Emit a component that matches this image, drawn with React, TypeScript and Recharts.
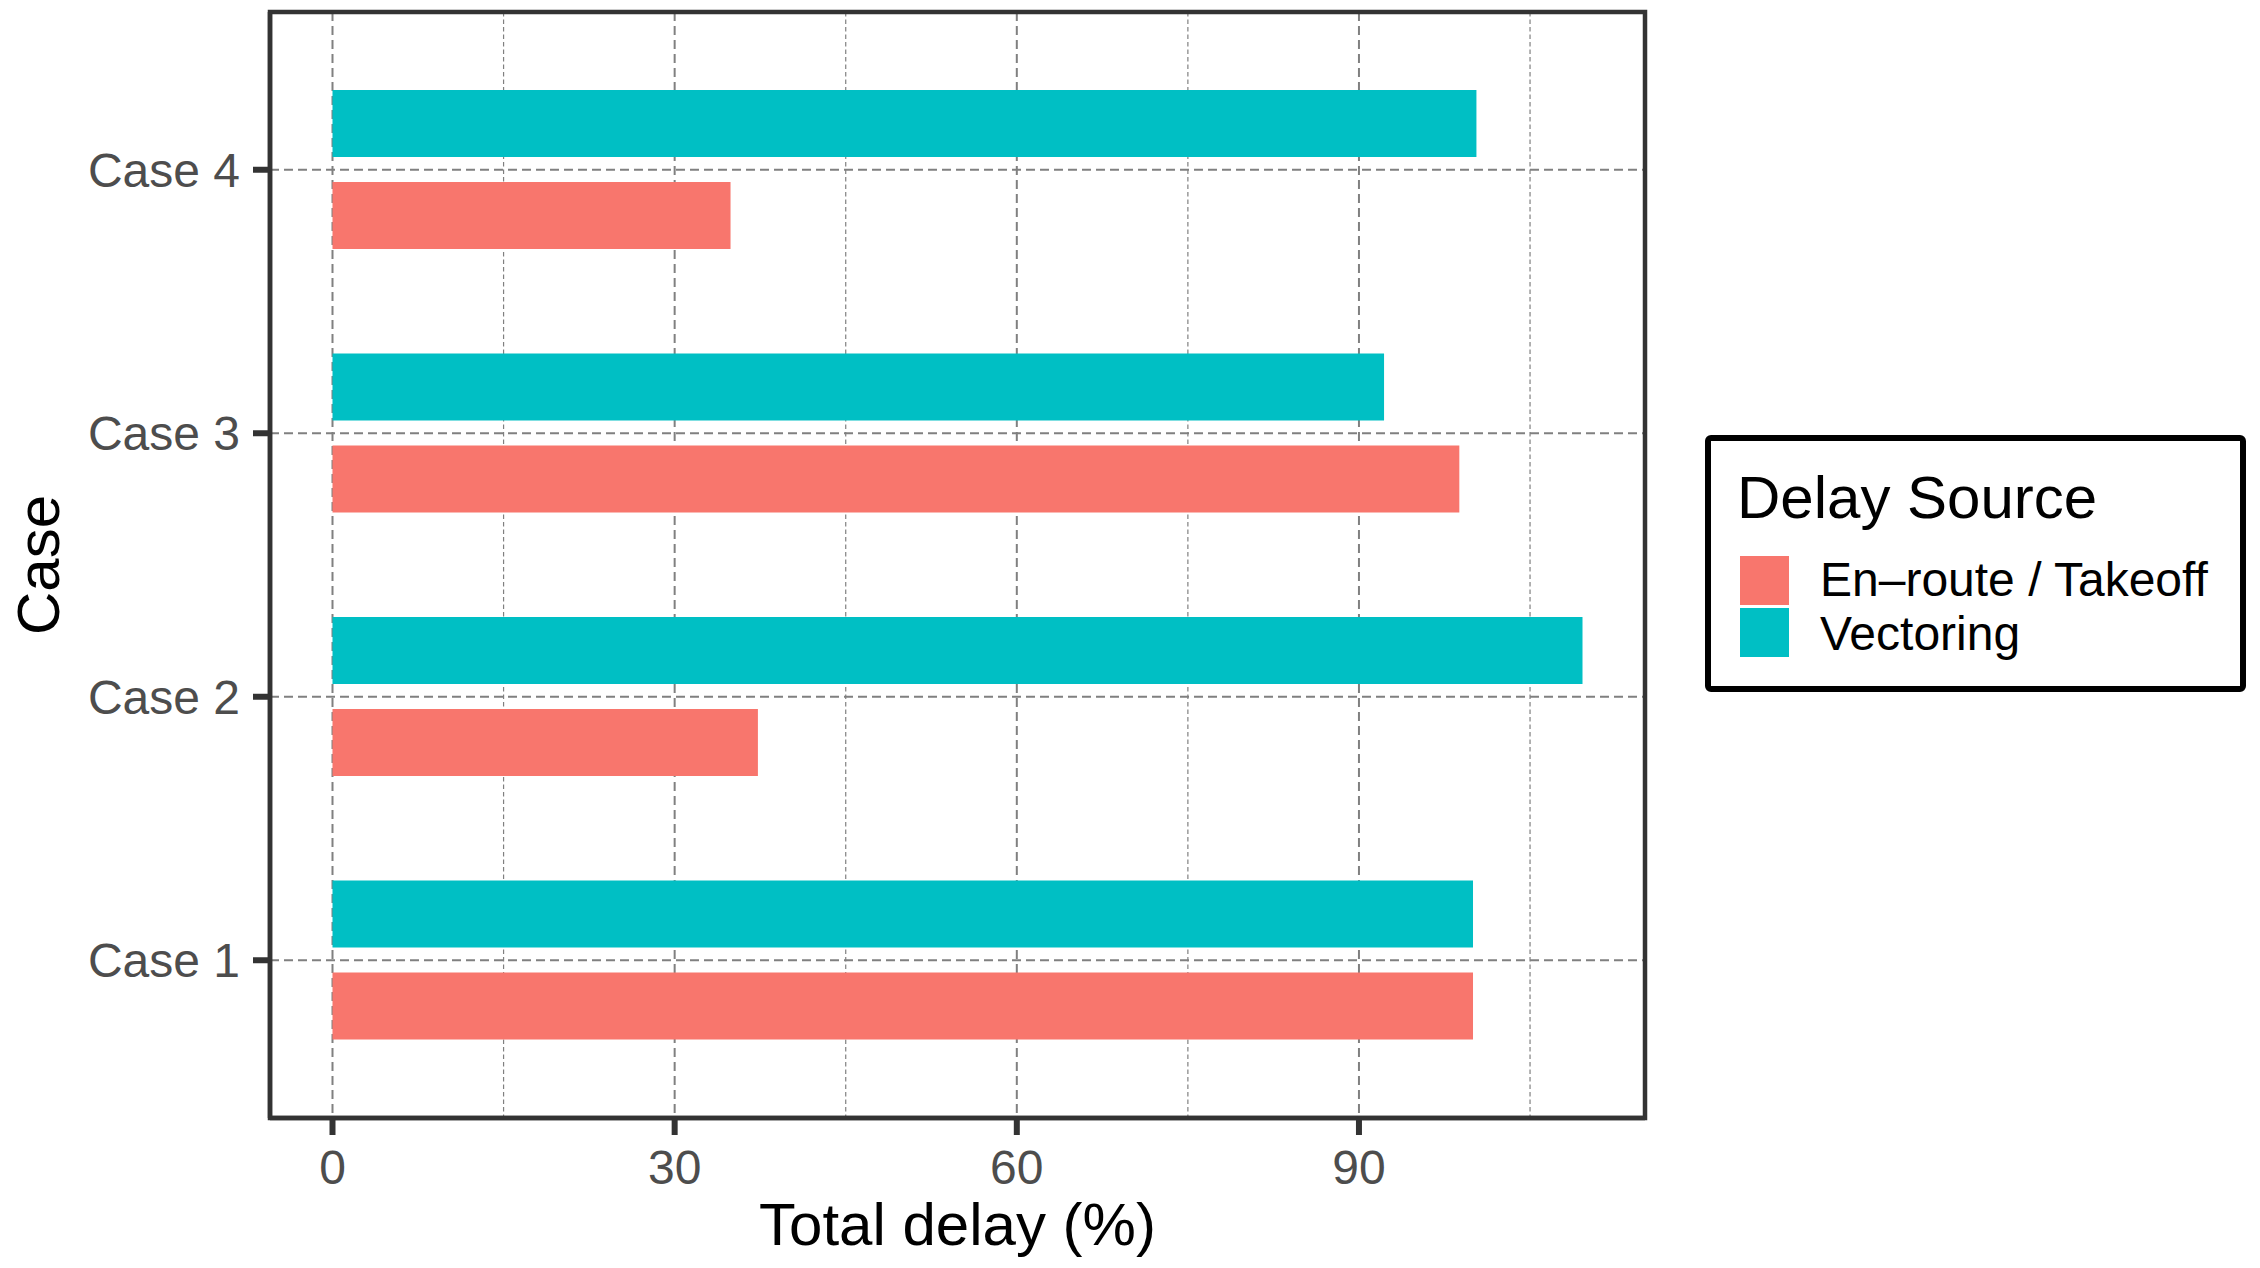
import React from 'react';
import * as R from 'recharts';
import { BarChart, Bar, XAxis, YAxis, CartesianGrid, Label } from 'recharts';

const categories = ['Case 4', 'Case 3', 'Case 2', 'Case 1'];
const enrouteValues = [34.9, 98.8, 37.3, 100.0];
const vectoringValues = [100.3, 92.2, 109.6, 100.0];
const majorTicks = [0, 30, 60, 90];
const minorTicks = [15, 45, 75, 105];
const seriesNames = ['En\u2013route / Takeoff', 'Vectoring'];
const seriesColors = ['#F8766D', '#00BFC4'];
const legendTitle = 'Delay Source';
const xTitle = 'Total delay (%)';
const yTitle = 'Case';

const data = categories.map((c, i) => ({
  case: c,
  enroute: enrouteValues[i],
  vectoring: vectoringValues[i],
}));

const maxVal = Math.max(...enrouteValues, ...vectoringValues);
const domain: [number, number] = [-0.05 * maxVal, 1.05 * maxVal];

const FONT = '"Liberation Sans", Arial, Helvetica, sans-serif';
const tickStyle = { fill: '#4D4D4D', fontSize: 48, fontFamily: FONT };
const borderLine = { stroke: '#333333', strokeWidth: 4.5 };
const tickLineStyle = { stroke: '#333333', strokeWidth: 6 };

const usePlotAreaHook: any = (R as any).usePlotArea || (R as any).useOffset;

function PanelBorder() {
  const pa = usePlotAreaHook ? usePlotAreaHook() : null;
  if (!pa) return null;
  const x = pa.x != null ? pa.x : pa.left;
  const y = pa.y != null ? pa.y : pa.top;
  const w = pa.width;
  const h = pa.height;
  if (x == null || y == null || w == null || h == null) return null;
  return <rect x={x} y={y} width={w} height={h} fill="none" stroke="#333333" strokeWidth={4.5} />;
}

const YTitle = (props: any) => {
  const vb = props.viewBox || { x: 0, y: 0, width: 0, height: 0 };
  const cx = vb.x + 38;
  const cy = vb.y + vb.height / 2;
  return (
    <text
      x={cx}
      y={cy}
      dy="0.355em"
      textAnchor="middle"
      transform={`rotate(-90, ${cx}, ${cy})`}
      fontSize={60}
      fontFamily={FONT}
      fill="#000000"
    >
      {yTitle}
    </text>
  );
};

export default function App() {
  return (
    <div
      style={{
        position: 'absolute',
        left: 0,
        top: 0,
        width: 2260,
        height: 1268,
        background: '#ffffff',
        fontFamily: FONT,
      }}
    >
      <BarChart
        width={2260}
        height={1268}
        data={data}
        layout="vertical"
        margin={{ top: 12, right: 615, bottom: 0, left: 0 }}
        barGap={25}
        barSize={67}
      >
        <CartesianGrid
          horizontal={false}
          verticalValues={minorTicks}
          stroke="#808080"
          strokeWidth={1.2}
          strokeDasharray="4.5 3"
        />
        <CartesianGrid stroke="#808080" strokeWidth={2} strokeDasharray="9 5" />
        <XAxis
          type="number"
          domain={domain}
          ticks={majorTicks}
          allowDataOverflow
          height={150}
          tickSize={17}
          tickMargin={15}
          tick={tickStyle}
          tickLine={tickLineStyle}
          axisLine={borderLine}
        >
          <Label
            value={xTitle}
            position="insideBottom"
            offset={23}
            style={{ fontSize: 60, fill: '#000000', fontFamily: FONT }}
          />
        </XAxis>
        <YAxis
          type="category"
          dataKey="case"
          width={270}
          padding={{ top: 26, bottom: 26 }}
          tickSize={17}
          tickMargin={13}
          tick={tickStyle}
          tickLine={tickLineStyle}
          axisLine={borderLine}
        >
          <Label content={<YTitle />} />
        </YAxis>
        <Bar dataKey="vectoring" name={seriesNames[1]} fill={seriesColors[1]} isAnimationActive={false} />
        <Bar dataKey="enroute" name={seriesNames[0]} fill={seriesColors[0]} isAnimationActive={false} />
        <PanelBorder />
      </BarChart>
      <svg
        width={2260}
        height={1268}
        style={{ position: 'absolute', left: 0, top: 0, pointerEvents: 'none' }}
      >
        <rect x={1708} y={438} width={535} height={251} rx={3} fill="#ffffff" stroke="#000000" strokeWidth={6} />
        <text x={1737} y={518} fontSize={60} fontFamily={FONT} fill="#000000">
          {legendTitle}
        </text>
        {seriesNames.map((n, i) => (
          <g key={n}>
            <rect x={1740} y={556 + i * 52} width={49} height={49} fill={seriesColors[i]} />
            <text x={1820} y={596 + i * 54} fontSize={48} fontFamily={FONT} fill="#000000">
              {n}
            </text>
          </g>
        ))}
      </svg>
    </div>
  );
}
